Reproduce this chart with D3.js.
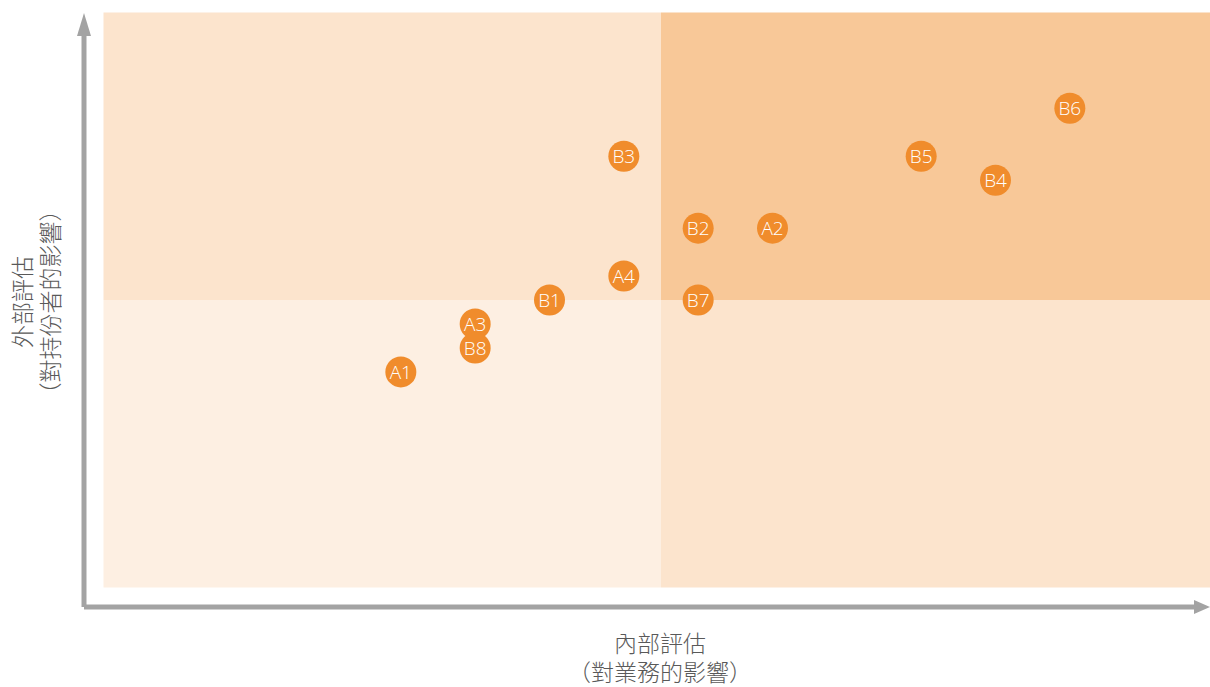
<!DOCTYPE html>
<html>
<head>
<meta charset="utf-8">
<script src="https://cdn.jsdelivr.net/npm/d3@7"></script>
<style>
  body { margin: 0; background: #fff; }
  text { font-family: "Open Sans", "Noto Sans CJK TC", sans-serif; }
  .axis-label { font-family: "Noto Sans CJK TC", sans-serif; font-weight: 300; }
</style>
</head>
<body>
<script>
// Dati dei punti: etichetta, valutazione interna (x), valutazione esterna (y)
const labels = ["A1", "A3", "B8", "B1", "A4", "B3", "B2", "B7", "A2", "B5", "B4", "B6"];
const internalScores = [4, 5, 5, 6, 7, 7, 8, 8, 9, 11, 12, 13];
const externalScores = [9, 11, 10, 12, 13, 18, 15, 12, 15, 18, 17, 20];

const xLabel = ["內部評估", "（對業務的影響）"];
const yLabel = ["外部評估", "（對持份者的影響）"];

const width = 1210;
const height = 687;
const plotLeft = 103.5;
const plotRight = 1218.5; // il riquadro esce leggermente a destra
const plotTop = 12.5;
const plotBottom = 587.5;

const svg = d3.create("svg")
  .attr("width", width)
  .attr("height", height);

// Scale lineari
const xScale = d3.scaleLinear().domain([0, 15]).range([plotLeft, plotRight]);
const yScale = d3.scaleLinear().domain([0, 24]).range([plotBottom, plotTop]);

const xMid = 7.5;
const yMid = 12;

// Quadranti colorati
const quadrants = [
  { x0: 0, x1: xMid, y0: yMid, y1: 24, color: "#fce4cd" },
  { x0: xMid, x1: 15, y0: yMid, y1: 24, color: "#f8c898" },
  { x0: 0, x1: xMid, y0: 0, y1: yMid, color: "#fdefe2" },
  { x0: xMid, x1: 15, y0: 0, y1: yMid, color: "#fce4cd" }
];

svg.append("g")
  .selectAll("rect")
  .data(quadrants)
  .join("rect")
  .attr("x", d => xScale(d.x0))
  .attr("y", d => yScale(d.y1))
  .attr("width", d => xScale(d.x1) - xScale(d.x0))
  .attr("height", d => yScale(d.y0) - yScale(d.y1))
  .attr("fill", d => d.color);

// Assi con frecce
const axisColor = "#a3a3a3";
const ax = 84, ay = 607;
svg.append("path")
  .attr("d", `M${ax},${ay} L${ax},34 M${ax},${ay} L1196,${ay}`)
  .attr("stroke", axisColor)
  .attr("stroke-width", 5)
  .attr("fill", "none");
svg.append("path")
  .attr("d", `M${ax},13 L${ax - 7},36 L${ax + 7},36 Z`)
  .attr("fill", axisColor);
svg.append("path")
  .attr("d", `M1210,${ay} L1194,${ay - 7} L1194,${ay + 7} Z`)
  .attr("fill", axisColor);

// Punti
const points = labels.map((l, i) => ({ label: l, x: internalScores[i], y: externalScores[i] }));

const gPoints = svg.append("g")
  .selectAll("g")
  .data(points)
  .join("g")
  .attr("transform", d => `translate(${xScale(d.x)},${yScale(d.y)})`);

gPoints.append("circle")
  .attr("r", 15.5)
  .attr("fill", "#f08c2c");

gPoints.append("text")
  .attr("text-anchor", "middle")
  .attr("dy", "0.36em")
  .attr("fill", "#fff")
  .attr("font-size", 19)
  .attr("font-weight", 300)
  .text(d => d.label);

// Etichette degli assi
svg.append("text")
  .attr("class", "axis-label")
  .attr("text-anchor", "middle")
  .attr("fill", "#595959")
  .attr("font-size", 23)
  .selectAll("tspan")
  .data(xLabel)
  .join("tspan")
  .attr("x", 660)
  .attr("y", (d, i) => 652 + i * 29)
  .text(d => d);

svg.append("text")
  .attr("class", "axis-label")
  .attr("transform", "translate(0,302) rotate(-90)")
  .attr("text-anchor", "middle")
  .attr("fill", "#595959")
  .attr("font-size", 23)
  .selectAll("tspan")
  .data(yLabel)
  .join("tspan")
  .attr("x", 0)
  .attr("y", (d, i) => 31 + i * 28)
  .text(d => d);

document.body.appendChild(svg.node());
</script>
</body>
</html>
